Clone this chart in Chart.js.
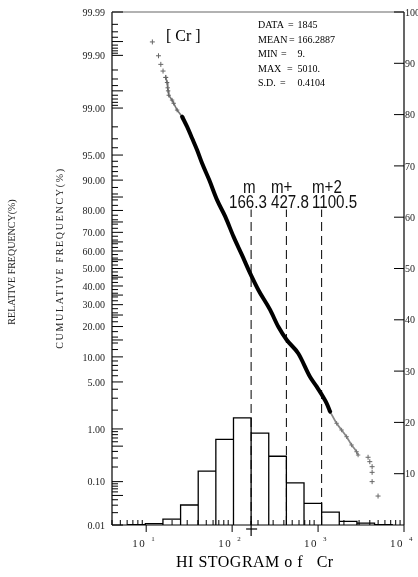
<!DOCTYPE html>
<html>
<head>
<meta charset="utf-8">
<script src="https://cdn.jsdelivr.net/npm/chart.js@4"></script>
<style>
html, body { margin: 0; padding: 0; background: #fff; }
canvas { display: block; }
</style>
</head>
<body>
<canvas id="chart" width="418" height="577"></canvas>
<script>
// histogram: bin edges (ppm) and relative frequency (%) per bin
const binEdges = [6.09, 9.77, 15.66, 25.13, 40.30, 64.64, 103.7, 166.3, 266.8, 427.8, 686.3, 1100.5, 1765, 2832, 4542, 7287];
const relFreq = [0.05, 0.25, 1.15, 3.9, 10.5, 16.7, 20.9, 17.9, 13.4, 8.2, 4.2, 2.5, 0.7, 0.35, 0.05];

// m, m+, m+2 lines
const markNames = ['m', 'm+', 'm+2'];
const markValues = [166.3, 427.8, 1100.5];

// cumulative frequency, upper tail (single points)
const topVal = [11.8, 13.9, 14.8, 15.7, 16.9];
const topPct = [99.949, 99.898, 99.846, 99.79, 99.72];
// upper tail, close points
const upperVal = [16.9, 17.5, 17.8, 18.0, 18.3, 20.0, 20.9, 22.9, 26.2];
const upperPct = [99.72, 99.65, 99.56, 99.50, 99.40, 99.27, 99.17, 98.92, 98.61];
// main body
const bodyVal = [26.2, 29.9, 34.2, 39.1, 44.7, 54.2, 66.7, 83.2, 103.8, 130, 162.2, 202, 277, 345, 432.5, 589, 805, 964, 1259, 1380];
const bodyPct = [98.61, 98.01, 97.05, 95.71, 93.64, 90.0, 84.0, 77.4, 67.8, 57.8, 47.2, 37.8, 27.4, 19.9, 15.0, 10.9, 5.83, 4.33, 2.53, 1.9];
// lower tail, close points
const lowerVal = [1380, 1644, 1879, 2148, 2455, 2805, 2924];
const lowerPct = [1.9, 1.24, 0.96, 0.737, 0.525, 0.395, 0.342];
// lower tail, single points
const bottomVal = [3819, 3999, 4256, 4256, 4256, 4990];
const bottomPct = [0.31, 0.255, 0.203, 0.156, 0.10, 0.0485];

// axis labels
const probLabels = [0.01, 0.1, 1, 5, 10, 20, 30, 40, 50, 60, 70, 80, 90, 95, 99, 99.9, 99.99];
const probLong = [0.05, 0.5, 15, 25, 35, 45, 55, 65, 75, 85, 99.5, 99.95];
const probShortLow = [0.02, 0.03, 0.04, 0.06, 0.07, 0.08, 0.09, 0.2, 0.3, 0.4, 0.6, 0.7, 0.8, 0.9,
                      2, 3, 4, 6, 7, 8, 9, 12, 14, 16, 18, 22, 24, 26, 28, 32, 34, 36, 38, 42, 44, 46, 48];
const relTicks = [10, 20, 30, 40, 50, 60, 70, 80, 90, 100];
const decades = [10, 100, 1000, 10000];

const statNames = ['DATA', 'MEAN', 'MIN', 'MAX', 'S.D.'];
const statValues = ['1845', '166.2887', '9.', '5010.', '0.4104'];

const SERIF = '"Liberation Serif", "Times New Roman", serif';
const SANS = '"Liberation Sans", Arial, sans-serif';

// inverse of the standard normal CDF (Acklam)
function probit(p) {
    const a = [-39.69683028665376, 220.9460984245205, -275.9285104469687, 138.3577518672690, -30.66479806614716, 2.506628277459239];
    const b = [-54.47609879822406, 161.5858368580409, -155.6989798598866, 66.80131188771972, -13.28068155288572];
    const c = [-0.007784894002430293, -0.3223964580411365, -2.400758277161838, -2.549732539343734, 4.374664141464968, 2.938163982698783];
    const d = [0.007784695709041462, 0.3224671290700398, 2.445134137142996, 3.754408661907416];
    const lo = 0.02425;
    if (p < lo) {
        const q = Math.sqrt(-2 * Math.log(p));
        return (((((c[0]*q+c[1])*q+c[2])*q+c[3])*q+c[4])*q+c[5]) / ((((d[0]*q+d[1])*q+d[2])*q+d[3])*q+1);
    }
    if (p > 1 - lo) {
        const q = Math.sqrt(-2 * Math.log(1 - p));
        return -(((((c[0]*q+c[1])*q+c[2])*q+c[3])*q+c[4])*q+c[5]) / ((((d[0]*q+d[1])*q+d[2])*q+d[3])*q+1);
    }
    const q = p - 0.5, r = q * q;
    return (((((a[0]*r+a[1])*r+a[2])*r+a[3])*r+a[4])*r+a[5])*q / (((((b[0]*r+b[1])*r+b[2])*r+b[3])*r+b[4])*r+1);
}

const toProb = (vals, pcts) => vals.map((v, i) => ({ x: v, y: probit(pcts[i] / 100) }));

// histogram outline as one polyline
const histPoints = [];
relFreq.forEach((f, i) => {
    histPoints.push({ x: binEdges[i], y: 0 }, { x: binEdges[i], y: f },
                    { x: binEdges[i + 1], y: f }, { x: binEdges[i + 1], y: 0 });
});

const datasets = [
    {
        data: histPoints, yAxisID: 'y2', borderColor: '#000', borderWidth: 1.3,
        pointRadius: 0, tension: 0
    },
    ...markValues.map(m => ({
        data: [{ x: m, y: 0 }, { x: m, y: 61.5 }], yAxisID: 'y2', borderColor: '#000',
        borderWidth: 1, borderDash: [9, 5], pointRadius: 0
    })),
    {
        data: toProb(bodyVal, bodyPct), yAxisID: 'y', borderColor: '#000', borderWidth: 4,
        pointRadius: 0, cubicInterpolationMode: 'monotone', borderJoinStyle: 'round', borderCapStyle: 'round'
    },
    {
        data: toProb(upperVal, upperPct), yAxisID: 'y', borderColor: '#777', borderWidth: 1.6,
        pointStyle: 'cross', pointRadius: 2.2, pointBorderColor: '#666', pointBorderWidth: 1, tension: 0
    },
    {
        data: toProb(lowerVal, lowerPct), yAxisID: 'y', borderColor: '#888', borderWidth: 1.8,
        pointStyle: 'cross', pointRadius: 2.2, pointBorderColor: '#777', pointBorderWidth: 1,
        cubicInterpolationMode: 'monotone'
    },
    {
        data: toProb(topVal, topPct).concat(toProb(bottomVal, bottomPct)), yAxisID: 'y', showLine: false,
        pointStyle: 'cross', pointRadius: 2.5, pointBorderColor: '#666', pointBorderWidth: 1
    }
];

const decor = {
    id: 'decor',
    afterDatasetsDraw(chart) {
        const { ctx, chartArea: area, scales } = chart;
        const xs = scales.x, ys = scales.y, yr = scales.y2;
        const seg = (x1, y1, x2, y2) => { ctx.beginPath(); ctx.moveTo(x1, y1); ctx.lineTo(x2, y2); ctx.stroke(); };
        ctx.save();

        // frame
        ctx.lineWidth = 1.2;
        ctx.strokeStyle = '#000';
        seg(area.left, area.top, area.left, area.bottom);
        seg(area.left, area.bottom, area.right, area.bottom);
        seg(area.right, area.top, area.right, area.bottom);
        ctx.strokeStyle = '#666';
        seg(area.left, area.top, area.right, area.top);

        // probability axis ticks (inside)
        ctx.strokeStyle = '#000';
        ctx.lineWidth = 1;
        const shortTicks = probShortLow.concat(probShortLow.map(p => +(100 - p).toFixed(2)));
        shortTicks.forEach(p => {
            const py = ys.getPixelForValue(probit(p / 100));
            seg(area.left, py, area.left + 6, py);
        });
        probLong.concat(probLabels).forEach(p => {
            const py = ys.getPixelForValue(probit(p / 100));
            seg(area.left, py, area.left + 11, py);
        });
        ctx.fillStyle = '#222';
        ctx.font = '10px ' + SERIF;
        ctx.textAlign = 'right';
        ctx.textBaseline = 'middle';
        probLabels.forEach(p => {
            ctx.fillText(p.toFixed(2), area.left - 7, ys.getPixelForValue(probit(p / 100)) + 1);
        });

        // relative frequency axis (right)
        ctx.textAlign = 'left';
        relTicks.forEach(v => {
            const py = yr.getPixelForValue(v);
            seg(area.right - 10, py, area.right, py);
            ctx.fillText(String(v), area.right + 1, py + 1);
        });

        // log axis ticks
        for (let dec = 1; dec <= 1000; dec *= 10) {
            for (let k = 1; k < 10; k++) {
                const v = dec * k;
                if (v < xs.min || v === dec) continue;
                const px = xs.getPixelForValue(v);
                seg(px, area.bottom, px, area.bottom - 5);
            }
        }
        decades.forEach((v, i) => {
            const px = xs.getPixelForValue(v);
            seg(px, area.bottom, px, area.bottom + 7);
            ctx.textBaseline = 'alphabetic';
            ctx.font = '11px ' + SERIF;
            ctx.letterSpacing = '1.5px';
            ctx.textAlign = 'right';
            ctx.fillText('10', px, area.bottom + 22);
            ctx.letterSpacing = '0px';
            ctx.font = '7px ' + SERIF;
            ctx.textAlign = 'left';
            ctx.fillText(String(i + 1), px + 5, area.bottom + 16);
        });

        // mean mark under the axis
        const mx = xs.getPixelForValue(markValues[0]);
        ctx.lineWidth = 1.2;
        seg(mx, area.bottom - 4, mx, area.bottom + 11);
        seg(mx - 5, area.bottom + 4, mx + 6, area.bottom + 4);

        // m labels
        ctx.fillStyle = '#111';
        ctx.font = '18px ' + SANS;
        ctx.textAlign = 'left';
        const nameX = [243, 271, 312], valX = [229, 271, 312];
        markNames.forEach((n, i) => {
            ctx.save();
            ctx.translate(nameX[i], 193);
            ctx.scale(0.84, 1);
            ctx.fillText(n, 0, 0);
            ctx.restore();
            ctx.save();
            ctx.translate(valX[i], 208);
            ctx.scale(0.84, 1);
            ctx.fillText(markValues[i].toFixed(1), 0, 0);
            ctx.restore();
        });

        // element name and statistics
        ctx.fillStyle = '#000';
        ctx.font = '16px ' + SERIF;
        ctx.fillText('[ Cr ]', 166, 41);
        ctx.font = '10px ' + SERIF;
        const eqX = [288, 289, 281, 287, 280];
        statNames.forEach((s, i) => {
            const by = 28 + i * 14.6;
            ctx.fillText(s, 258, by);
            ctx.fillText('=', eqX[i], by);
            ctx.fillText(statValues[i], 297.5, by);
        });

        // bottom title
        ctx.font = '16px ' + SERIF;
        ctx.letterSpacing = '0.5px';
        ctx.fillText('HI STOGRAM o f   Cr', 176, 567);
        ctx.letterSpacing = '0px';

        // vertical axis titles
        ctx.fillStyle = '#222';
        ctx.font = '10px ' + SERIF;
        ctx.textAlign = 'center';
        ctx.textBaseline = 'middle';
        ctx.save();
        ctx.translate(60, 258);
        ctx.rotate(-Math.PI / 2);
        ctx.letterSpacing = '1.7px';
        ctx.fillText('CUMULATIVE FREQUENCY(%)', 0, 0);
        ctx.restore();
        ctx.save();
        ctx.translate(12, 262);
        ctx.rotate(-Math.PI / 2);
        ctx.letterSpacing = '0px';
        ctx.fillText('RELATIVE FREQUENCY(%)', 0, 0);
        ctx.restore();

        ctx.restore();
    }
};

new Chart(document.getElementById('chart'), {
    type: 'line',
    data: { datasets },
    options: {
        responsive: false,
        devicePixelRatio: 1,
        animation: false,
        layout: { padding: { left: 112, right: 14, top: 12, bottom: 52 } },
        plugins: { legend: { display: false }, tooltip: { enabled: false } },
        scales: {
            x: { type: 'logarithmic', min: 4, max: 10000, display: false },
            y: { type: 'linear', min: probit(0.0001), max: probit(0.9999), display: false },
            y2: { type: 'linear', min: 0, max: 100, display: false }
        }
    },
    plugins: [decor]
});
</script>
</body>
</html>
